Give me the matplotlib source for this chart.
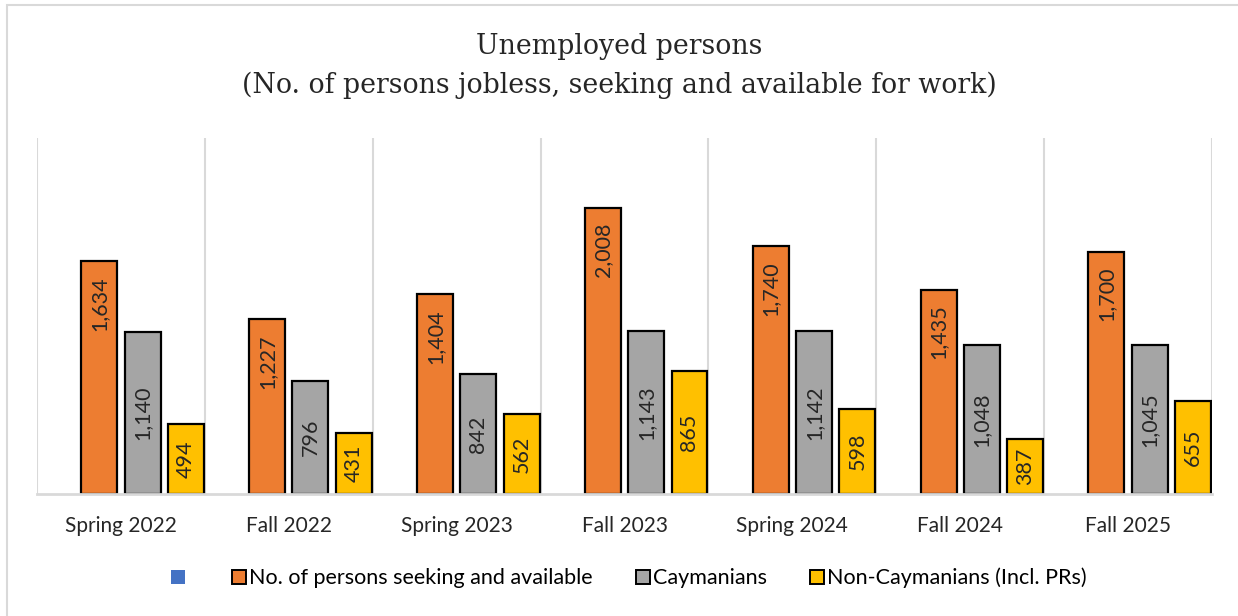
import numpy as np
import matplotlib.pyplot as plt
from matplotlib.patches import Rectangle, Patch

# data
periods = ['Spring 2022', 'Fall 2022', 'Spring 2023', 'Fall 2023',
           'Spring 2024', 'Fall 2024', 'Fall 2025']
blank = [0, 0, 0, 0, 0, 0, 0]   # unnamed series, shows only in legend
total = [1634, 1227, 1404, 2008, 1740, 1435, 1700]
caymanians = [1140, 796, 842, 1143, 1142, 1048, 1045]
non_caymanians = [494, 431, 562, 865, 598, 387, 655]

W, H = 1238, 616
fig = plt.figure(figsize=(W / 100, H / 100), dpi=100)

# outer chart frame (light grey)
fig.patches.append(Rectangle((7 / W, -0.05), 1.1, 1 - 5 / H + 0.05,
                             transform=fig.transFigure, fill=False,
                             edgecolor='#d9d9d9', linewidth=1.5))

ax = fig.add_axes([37 / W, 1 - 494 / H, (1212 - 37) / W, (494 - 138) / H])

x = np.arange(len(periods))
bw = 0.214
step = 0.258
series = [
    (blank, '#4472c4', ''),
    (total, '#ed7d31', 'No. of persons seeking and available'),
    (caymanians, '#a5a5a5', 'Caymanians'),
    (non_caymanians, '#ffc000', 'Non-Caymanians (Incl. PRs)'),
]
lab_font = dict(family='Lato', fontsize=15.5, color='#262626')

for k, (vals, col, name) in enumerate(series):
    off = (k - 1.5) * step
    if k == 0:
        continue
    bars = ax.bar(x + off, vals, bw, color=col, edgecolor='black', linewidth=1.6)
    for xi, v in zip(x + off, vals):
        txt = f'{v:,}'
        if k == 1:
            ax.annotate(txt, (xi, v), xytext=(0, -15), textcoords='offset pixels',
                        rotation=90, ha='center', va='top', **lab_font)
        else:
            ax.text(xi, v / 2, txt, rotation=90, ha='center', va='center', **lab_font)

ax.set_xlim(-0.5, 6.5)
ax.set_ylim(0, 2500)
ax.set_yticks([])
for b in np.arange(-0.5, 7, 1):
    ax.axvline(b, color='#d9d9d9', linewidth=1.5, zorder=0)

for s in ['top', 'left', 'right']:
    ax.spines[s].set_visible(False)
ax.spines['bottom'].set_color('#d9d9d9')
ax.spines['bottom'].set_linewidth(2)
ax.set_xticks(x)
ax.set_xticklabels(periods, family='Lato', fontsize=15, color='#262626')
ax.tick_params(axis='x', length=0, pad=16)

fig.text(0.5, 1 - 66 / H, 'Unemployed persons\n(No. of persons jobless, seeking and available for work)',
         ha='center', va='center', family='DejaVu Serif', fontsize=19.3,
         color='#262626', linespacing=1.5)

handles = [Patch(facecolor=c, edgecolor='none' if i == 0 else 'black', linewidth=1.4)
           for i, (_, c, _n) in enumerate(series)]
labels = [n for _, _, n in series]
fig.legend(handles, labels, loc='center', bbox_to_anchor=(0.5 + 10 / W, 1 - 578 / H),
           ncol=4, frameon=False, handlelength=0.65, handleheight=0.65,
           handletextpad=0.15, columnspacing=2.0,
           prop=dict(family='Lato', size=15.5))

fig.savefig('out.png', dpi=100)
